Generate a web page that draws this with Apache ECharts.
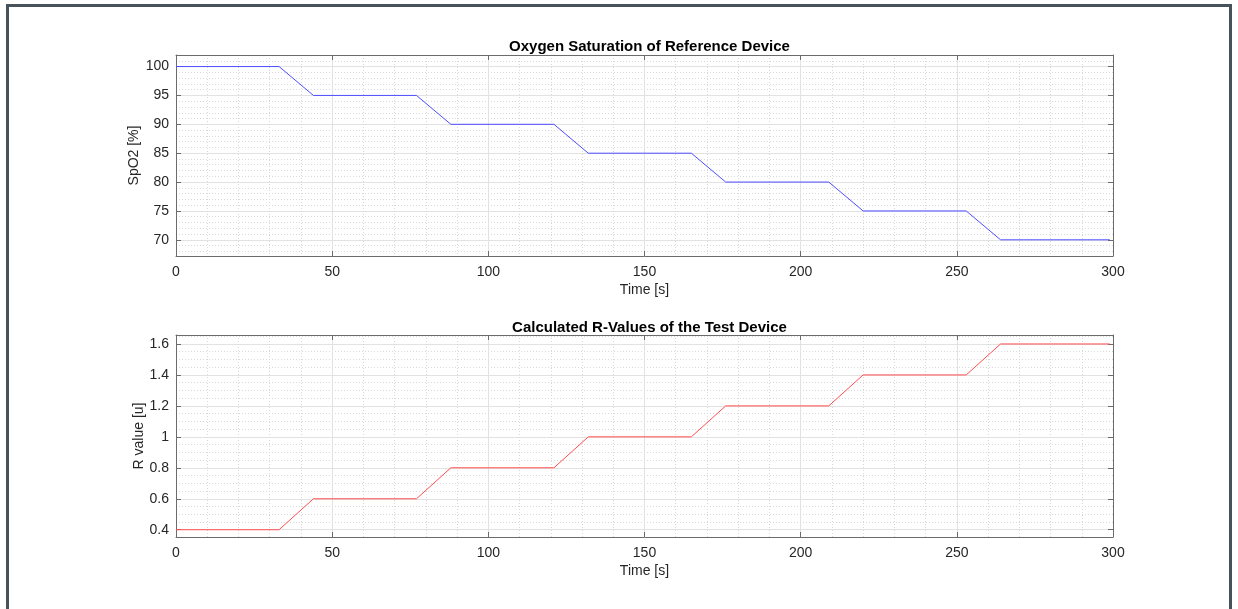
<!DOCTYPE html>
<html>
<head>
<meta charset="utf-8">
<title>SpO2 / R value</title>
<script src="https://cdn.jsdelivr.net/npm/echarts@6/dist/echarts.min.js"></script>
<style>
  body { margin: 0; background: #fff; }
  #frame { position: absolute; left: 6px; top: 4px; width: 1220px; height: 620px;
           border: 3px solid #47525a; border-bottom: none; }
  #main { position: absolute; left: 0; top: 0; width: 1238px; height: 609px; }
</style>
</head>
<body>
<div id="frame"></div>
<div id="main"></div>
<script>
// time points [s] where the curves change slope
var timeSec = [0, 33, 44, 77, 88, 121, 132, 165, 176, 209, 220, 253, 264, 299];
// reference device SpO2 [%]
var spo2 = [100, 100, 95, 95, 90, 90, 85, 85, 80, 80, 75, 75, 70, 70];
// test device R value [u]
var rValue = [0.4, 0.4, 0.6, 0.6, 0.8, 0.8, 1.0, 1.0, 1.2, 1.2, 1.4, 1.4, 1.6, 1.6];

// tick values (major = labelled, minor = dotted grid)
var spo2Ticks = [70, 75, 80, 85, 90, 95, 100];
var spo2Minor = [68, 69, 71, 72, 73, 74, 76, 77, 78, 79, 81, 82, 83, 84, 86, 87, 88, 89,
                 91, 92, 93, 94, 96, 97, 98, 99, 101];
var rTicks = [0.4, 0.6, 0.8, 1.0, 1.2, 1.4, 1.6];
var rMinor = [0.45, 0.5, 0.55, 0.65, 0.7, 0.75, 0.85, 0.9, 0.95, 1.05, 1.1, 1.15,
              1.25, 1.3, 1.35, 1.45, 1.5, 1.55, 1.65];

var txt = '#262626';
var boxCol = '#6b6b6b';
var minorCol = '#d9d9d9';
var font = 'Liberation Sans, Arial, Helvetica, sans-serif';

function pairs(xs, ys) {
  var out = [];
  for (var i = 0; i < xs.length; i++) out.push([xs[i], ys[i]]);
  return out;
}

function xMain(g) {
  return {
    type: 'value', gridIndex: g, min: 0, max: 300, interval: 50,
    name: 'Time [s]', nameLocation: 'middle', nameGap: 27,
    nameTextStyle: { color: txt, fontSize: 14, fontFamily: font },
    axisLine: { show: true, onZero: false, lineStyle: { color: boxCol, width: 1 } },
    axisTick: { show: true, inside: true, length: 5, lineStyle: { color: boxCol } },
    axisLabel: { color: txt, fontSize: 14, fontFamily: font, margin: 9 },
    splitLine: { show: true, lineStyle: { color: '#e2e2e2', width: 1 } },
    minorTick: { show: false, splitNumber: 5 },
    minorSplitLine: { show: true, lineStyle: { color: minorCol, type: [1, 2], width: 1 } }
  };
}
function xTop(g) {
  return {
    type: 'value', gridIndex: g, position: 'top', min: 0, max: 300, interval: 50,
    axisLine: { show: true, onZero: false, lineStyle: { color: boxCol, width: 1 } },
    axisTick: { show: true, inside: true, length: 5, lineStyle: { color: boxCol } },
    axisLabel: { show: false }, splitLine: { show: false }
  };
}
function yMain(g, mn, mx, ticks, name, gap) {
  return {
    type: 'value', gridIndex: g, position: 'left', min: mn, max: mx,
    name: name, nameLocation: 'middle', nameGap: gap, nameMoveOverlap: false,
    nameTextStyle: { color: txt, fontSize: 14, fontFamily: font },
    axisLine: { show: true, onZero: false, lineStyle: { color: boxCol, width: 1 } },
    axisTick: { show: true, inside: true, length: 5, customValues: ticks,
                lineStyle: { color: boxCol } },
    axisLabel: { color: txt, fontSize: 14, fontFamily: font, margin: 7, customValues: ticks },
    splitLine: { show: true, lineStyle: { color: '#e2e2e2', width: 1 } }
  };
}
function yRight(g, mn, mx, ticks) {
  return {
    type: 'value', gridIndex: g, position: 'right', min: mn, max: mx,
    axisLine: { show: true, onZero: false, lineStyle: { color: boxCol, width: 1 } },
    axisTick: { show: true, inside: true, length: 5, customValues: ticks,
                lineStyle: { color: boxCol } },
    axisLabel: { show: false }, splitLine: { show: false }
  };
}
// extra axis only used to draw the dotted minor grid
function yMinor(g, mn, mx, ticks) {
  return {
    type: 'value', gridIndex: g, position: 'right', min: mn, max: mx,
    axisLine: { show: false }, axisLabel: { show: false },
    axisTick: { show: false, customValues: ticks },
    splitLine: { show: true, lineStyle: { color: minorCol, type: [1, 2], width: 1 } }
  };
}

var chart = echarts.init(document.getElementById('main'));
chart.setOption({
  backgroundColor: 'transparent',
  animation: false,
  title: [
    { text: 'Oxygen Saturation of Reference Device', left: 644.5, top: 34, textAlign: 'center',
      textStyle: { color: '#000', fontSize: 15, fontWeight: 'bold', fontFamily: font } },
    { text: 'Calculated R-Values of the Test Device', left: 644.5, top: 315, textAlign: 'center',
      textStyle: { color: '#000', fontSize: 15, fontWeight: 'bold', fontFamily: font } }
  ],
  grid: [
    { left: 176, top: 55, width: 937, height: 201 },
    { left: 176, top: 335, width: 937, height: 202 }
  ],
  xAxis: [xMain(0), xMain(1), xTop(0), xTop(1)],
  yAxis: [
    yMain(0, 67.2, 102, spo2Ticks, 'SpO2 [%]', 35),
    yMain(1, 0.353, 1.658, rTicks, 'R value [u]', 30),
    yRight(0, 67.2, 102, spo2Ticks),
    yRight(1, 0.353, 1.658, rTicks),
    yMinor(0, 67.2, 102, spo2Minor),
    yMinor(1, 0.353, 1.658, rMinor)
  ],
  series: [
    { type: 'line', xAxisIndex: 0, yAxisIndex: 0, data: pairs(timeSec, spo2),
      showSymbol: false, lineStyle: { color: '#4d4dff', width: 1 } },
    { type: 'line', xAxisIndex: 1, yAxisIndex: 1, data: pairs(timeSec, rValue),
      showSymbol: false, lineStyle: { color: '#ff4d4d', width: 1 } }
  ]
});
</script>
</body>
</html>
